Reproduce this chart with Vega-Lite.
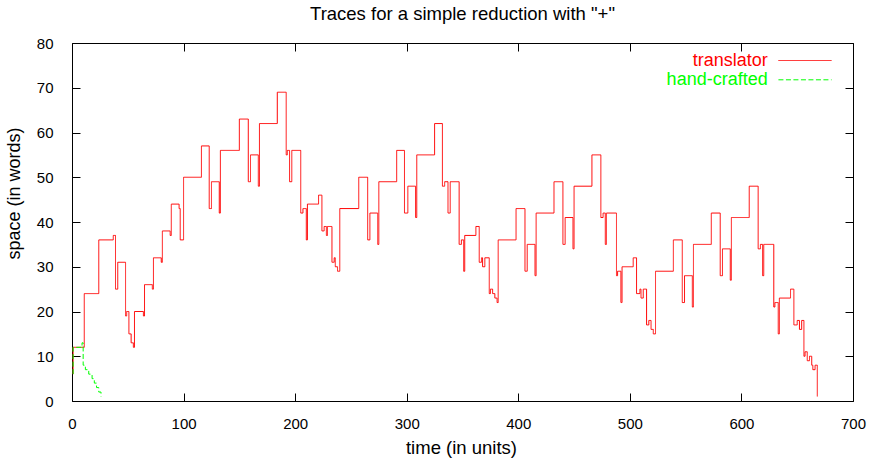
{
  "$schema": "https://vega.github.io/schema/vega-lite/v6.json",
  "width": 781,
  "height": 358,
  "autosize": {"type": "none"},
  "padding": {"left": 72, "top": 43, "right": 16, "bottom": 58},
  "background": "#ffffff",
  "title": {
    "text": "Traces for a simple reduction with \"+\"",
    "font": "Liberation Sans",
    "fontSize": 18.5,
    "fontWeight": "normal",
    "color": "#000000",
    "anchor": "middle",
    "baseline": "alphabetic",
    "offset": 20.6,
    "dy": 23
  },
  "config": {
    "view": {"stroke": "#000000", "strokeWidth": 1},
    "axis": {
      "domain": false,
      "grid": false,
      "tickColor": "#000000",
      "tickWidth": 1,
      "labelFont": "Liberation Sans",
      "labelFontSize": 15,
      "labelColor": "#000000",
      "labelFlush": false,
      "labelOverlap": false,
      "labelBound": false,
      "titleFont": "Liberation Sans",
      "titleFontSize": 18,
      "titleFontWeight": "normal",
      "titleColor": "#000000"
    }
  },
  "data": {
    "values": [
      {"i": 0, "series": "translator", "t": 1, "v": 6},
      {"i": 1, "series": "translator", "t": 1, "v": 12},
      {"i": 2, "series": "translator", "t": 11, "v": 24},
      {"i": 3, "series": "translator", "t": 24, "v": 36},
      {"i": 4, "series": "translator", "t": 37, "v": 37},
      {"i": 5, "series": "translator", "t": 39, "v": 25},
      {"i": 6, "series": "translator", "t": 41, "v": 31},
      {"i": 7, "series": "translator", "t": 48, "v": 19},
      {"i": 8, "series": "translator", "t": 49, "v": 20},
      {"i": 9, "series": "translator", "t": 51, "v": 15},
      {"i": 10, "series": "translator", "t": 53, "v": 13},
      {"i": 11, "series": "translator", "t": 55, "v": 12},
      {"i": 12, "series": "translator", "t": 56, "v": 20},
      {"i": 13, "series": "translator", "t": 64, "v": 19},
      {"i": 14, "series": "translator", "t": 65, "v": 26},
      {"i": 15, "series": "translator", "t": 72, "v": 25},
      {"i": 16, "series": "translator", "t": 73, "v": 32},
      {"i": 17, "series": "translator", "t": 80, "v": 31},
      {"i": 18, "series": "translator", "t": 81, "v": 38},
      {"i": 19, "series": "translator", "t": 88, "v": 37},
      {"i": 20, "series": "translator", "t": 89, "v": 44},
      {"i": 21, "series": "translator", "t": 96, "v": 43},
      {"i": 22, "series": "translator", "t": 97, "v": 36},
      {"i": 23, "series": "translator", "t": 100, "v": 50},
      {"i": 24, "series": "translator", "t": 116, "v": 57},
      {"i": 25, "series": "translator", "t": 123, "v": 43},
      {"i": 26, "series": "translator", "t": 125, "v": 49},
      {"i": 27, "series": "translator", "t": 132, "v": 42},
      {"i": 28, "series": "translator", "t": 133, "v": 56},
      {"i": 29, "series": "translator", "t": 150, "v": 63},
      {"i": 30, "series": "translator", "t": 158, "v": 49},
      {"i": 31, "series": "translator", "t": 160, "v": 55},
      {"i": 32, "series": "translator", "t": 167, "v": 48},
      {"i": 33, "series": "translator", "t": 168, "v": 62},
      {"i": 34, "series": "translator", "t": 184, "v": 69},
      {"i": 35, "series": "translator", "t": 192, "v": 55},
      {"i": 36, "series": "translator", "t": 193, "v": 56},
      {"i": 37, "series": "translator", "t": 195, "v": 49},
      {"i": 38, "series": "translator", "t": 197, "v": 56},
      {"i": 39, "series": "translator", "t": 205, "v": 42},
      {"i": 40, "series": "translator", "t": 207, "v": 43},
      {"i": 41, "series": "translator", "t": 210, "v": 36},
      {"i": 42, "series": "translator", "t": 211, "v": 44},
      {"i": 43, "series": "translator", "t": 221, "v": 46},
      {"i": 44, "series": "translator", "t": 224, "v": 38},
      {"i": 45, "series": "translator", "t": 226, "v": 39},
      {"i": 46, "series": "translator", "t": 228, "v": 37},
      {"i": 47, "series": "translator", "t": 229, "v": 39},
      {"i": 48, "series": "translator", "t": 233, "v": 31},
      {"i": 49, "series": "translator", "t": 235, "v": 32},
      {"i": 50, "series": "translator", "t": 236, "v": 30},
      {"i": 51, "series": "translator", "t": 238, "v": 29},
      {"i": 52, "series": "translator", "t": 240, "v": 43},
      {"i": 53, "series": "translator", "t": 257, "v": 50},
      {"i": 54, "series": "translator", "t": 265, "v": 36},
      {"i": 55, "series": "translator", "t": 267, "v": 42},
      {"i": 56, "series": "translator", "t": 274, "v": 35},
      {"i": 57, "series": "translator", "t": 275, "v": 49},
      {"i": 58, "series": "translator", "t": 291, "v": 56},
      {"i": 59, "series": "translator", "t": 298, "v": 42},
      {"i": 60, "series": "translator", "t": 301, "v": 48},
      {"i": 61, "series": "translator", "t": 308, "v": 41},
      {"i": 62, "series": "translator", "t": 309, "v": 55},
      {"i": 63, "series": "translator", "t": 325, "v": 62},
      {"i": 64, "series": "translator", "t": 332, "v": 48},
      {"i": 65, "series": "translator", "t": 334, "v": 49},
      {"i": 66, "series": "translator", "t": 337, "v": 42},
      {"i": 67, "series": "translator", "t": 339, "v": 49},
      {"i": 68, "series": "translator", "t": 347, "v": 35},
      {"i": 69, "series": "translator", "t": 349, "v": 36},
      {"i": 70, "series": "translator", "t": 351, "v": 29},
      {"i": 71, "series": "translator", "t": 352, "v": 37},
      {"i": 72, "series": "translator", "t": 362, "v": 39},
      {"i": 73, "series": "translator", "t": 365, "v": 31},
      {"i": 74, "series": "translator", "t": 367, "v": 32},
      {"i": 75, "series": "translator", "t": 368, "v": 30},
      {"i": 76, "series": "translator", "t": 370, "v": 32},
      {"i": 77, "series": "translator", "t": 374, "v": 24},
      {"i": 78, "series": "translator", "t": 375, "v": 25},
      {"i": 79, "series": "translator", "t": 377, "v": 24},
      {"i": 80, "series": "translator", "t": 379, "v": 23},
      {"i": 81, "series": "translator", "t": 381, "v": 22},
      {"i": 82, "series": "translator", "t": 382, "v": 36},
      {"i": 83, "series": "translator", "t": 398, "v": 43},
      {"i": 84, "series": "translator", "t": 406, "v": 29},
      {"i": 85, "series": "translator", "t": 408, "v": 35},
      {"i": 86, "series": "translator", "t": 415, "v": 28},
      {"i": 87, "series": "translator", "t": 416, "v": 42},
      {"i": 88, "series": "translator", "t": 432, "v": 49},
      {"i": 89, "series": "translator", "t": 440, "v": 35},
      {"i": 90, "series": "translator", "t": 442, "v": 41},
      {"i": 91, "series": "translator", "t": 449, "v": 34},
      {"i": 92, "series": "translator", "t": 450, "v": 48},
      {"i": 93, "series": "translator", "t": 466, "v": 55},
      {"i": 94, "series": "translator", "t": 474, "v": 41},
      {"i": 95, "series": "translator", "t": 476, "v": 42},
      {"i": 96, "series": "translator", "t": 478, "v": 35},
      {"i": 97, "series": "translator", "t": 479, "v": 42},
      {"i": 98, "series": "translator", "t": 488, "v": 28},
      {"i": 99, "series": "translator", "t": 489, "v": 29},
      {"i": 100, "series": "translator", "t": 492, "v": 22},
      {"i": 101, "series": "translator", "t": 493, "v": 30},
      {"i": 102, "series": "translator", "t": 503, "v": 32},
      {"i": 103, "series": "translator", "t": 506, "v": 24},
      {"i": 104, "series": "translator", "t": 509, "v": 25},
      {"i": 105, "series": "translator", "t": 510, "v": 23},
      {"i": 106, "series": "translator", "t": 512, "v": 25},
      {"i": 107, "series": "translator", "t": 515, "v": 17},
      {"i": 108, "series": "translator", "t": 517, "v": 18},
      {"i": 109, "series": "translator", "t": 519, "v": 16},
      {"i": 110, "series": "translator", "t": 521, "v": 15},
      {"i": 111, "series": "translator", "t": 523, "v": 29},
      {"i": 112, "series": "translator", "t": 539, "v": 36},
      {"i": 113, "series": "translator", "t": 547, "v": 22},
      {"i": 114, "series": "translator", "t": 549, "v": 28},
      {"i": 115, "series": "translator", "t": 556, "v": 21},
      {"i": 116, "series": "translator", "t": 557, "v": 35},
      {"i": 117, "series": "translator", "t": 573, "v": 42},
      {"i": 118, "series": "translator", "t": 581, "v": 28},
      {"i": 119, "series": "translator", "t": 583, "v": 34},
      {"i": 120, "series": "translator", "t": 590, "v": 27},
      {"i": 121, "series": "translator", "t": 591, "v": 41},
      {"i": 122, "series": "translator", "t": 607, "v": 48},
      {"i": 123, "series": "translator", "t": 615, "v": 34},
      {"i": 124, "series": "translator", "t": 617, "v": 35},
      {"i": 125, "series": "translator", "t": 619, "v": 28},
      {"i": 126, "series": "translator", "t": 620, "v": 35},
      {"i": 127, "series": "translator", "t": 629, "v": 21},
      {"i": 128, "series": "translator", "t": 630, "v": 22},
      {"i": 129, "series": "translator", "t": 633, "v": 15},
      {"i": 130, "series": "translator", "t": 634, "v": 23},
      {"i": 131, "series": "translator", "t": 644, "v": 25},
      {"i": 132, "series": "translator", "t": 647, "v": 17},
      {"i": 133, "series": "translator", "t": 650, "v": 18},
      {"i": 134, "series": "translator", "t": 652, "v": 16},
      {"i": 135, "series": "translator", "t": 654, "v": 18},
      {"i": 136, "series": "translator", "t": 656, "v": 10},
      {"i": 137, "series": "translator", "t": 657, "v": 11},
      {"i": 138, "series": "translator", "t": 659, "v": 9},
      {"i": 139, "series": "translator", "t": 661, "v": 10},
      {"i": 140, "series": "translator", "t": 663, "v": 8},
      {"i": 141, "series": "translator", "t": 664, "v": 7},
      {"i": 142, "series": "translator", "t": 666, "v": 8},
      {"i": 143, "series": "translator", "t": 668, "v": 1},
      {"i": 0, "series": "hand-crafted", "t": 1, "v": 6},
      {"i": 1, "series": "hand-crafted", "t": 1, "v": 12},
      {"i": 2, "series": "hand-crafted", "t": 9, "v": 13},
      {"i": 3, "series": "hand-crafted", "t": 10, "v": 8},
      {"i": 4, "series": "hand-crafted", "t": 12, "v": 7},
      {"i": 5, "series": "hand-crafted", "t": 15, "v": 6},
      {"i": 6, "series": "hand-crafted", "t": 18, "v": 5},
      {"i": 7, "series": "hand-crafted", "t": 20, "v": 4},
      {"i": 8, "series": "hand-crafted", "t": 22, "v": 3},
      {"i": 9, "series": "hand-crafted", "t": 24, "v": 2},
      {"i": 10, "series": "hand-crafted", "t": 26, "v": 1}
    ]
  },
  "resolve": {"axis": {"x": "independent", "y": "independent"}},
  "layer": [
    {
      "transform": [{"filter": "datum.series === 'translator'"}],
      "mark": {"type": "line", "interpolate": "step-after", "strokeWidth": 1},
      "encoding": {
        "x": {
          "field": "t", "type": "quantitative",
          "scale": {"domain": [0, 700], "nice": false, "zero": false},
          "axis": {
            "orient": "bottom",
            "title": "time (in units)",
            "titleFontSize": 18.5,
            "values": [0, 100, 200, 300, 400, 500, 600, 700],
            "tickSize": -8,
            "labelPadding": 35.3,
            "labelBaseline": "alphabetic",
            "titleX": 389,
            "titleY": 52.4,
            "titleBaseline": "alphabetic"
          }
        },
        "y": {
          "field": "v", "type": "quantitative",
          "scale": {"domain": [0, 80], "nice": false},
          "axis": {
            "orient": "left",
            "title": "space (in words)",
            "values": [0, 10, 20, 30, 40, 50, 60, 70, 80],
            "tickSize": -8,
            "labelPadding": 27,
            "labelAlign": "right",
            "labelBaseline": "middle",
            "titleX": -52.4,
            "titleY": 150,
            "titleBaseline": "alphabetic"
          }
        },
        "order": {"field": "i", "type": "quantitative"},
        "color": {
          "field": "series", "type": "nominal",
          "scale": {"domain": ["translator", "hand-crafted"], "range": ["#ff0000", "#00ff00"]},
          "legend": {
            "title": null,
            "orient": "none",
            "legendX": 724,
            "legendY": 8.5,
            "padding": 0,
            "symbolType": "M-5,0H5",
            "symbolSize": 113,
            "symbolStrokeWidth": 1,
            "rowPadding": 1.3,
            "labelAlign": "right",
            "labelBaseline": "middle",
            "labelOffset": -46.3,
            "labelFont": "Liberation Sans",
            "labelFontSize": 18,
            "labelLimit": 0,
            "labelColor": {"expr": "datum.value === 'translator' ? '#ff0000' : '#00ff00'"}
          }
        },
        "strokeDash": {
          "field": "series", "type": "nominal",
          "scale": {"domain": ["translator", "hand-crafted"], "range": [[1, 0], [5, 2.5]]}
        }
      }
    },
    {
      "transform": [{"filter": "datum.series === 'hand-crafted'"}],
      "mark": {"type": "line", "interpolate": "step-after", "strokeWidth": 1},
      "encoding": {
        "x": {
          "field": "t", "type": "quantitative",
          "axis": {
            "orient": "top",
            "title": null,
            "labels": false,
            "values": [0, 100, 200, 300, 400, 500, 600, 700],
            "tickSize": -8
          }
        },
        "y": {
          "field": "v", "type": "quantitative",
          "axis": {
            "orient": "right",
            "title": null,
            "labels": false,
            "values": [0, 10, 20, 30, 40, 50, 60, 70, 80],
            "tickSize": -8
          }
        },
        "order": {"field": "i", "type": "quantitative"},
        "color": {"field": "series", "type": "nominal"},
        "strokeDash": {"field": "series", "type": "nominal"}
      }
    }
  ]
}
